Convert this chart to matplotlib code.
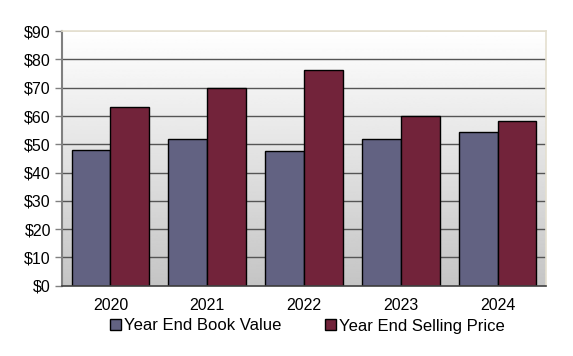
import numpy as np
import matplotlib
import matplotlib.pyplot as plt
from matplotlib.patches import Patch

matplotlib.use("Agg")
plt.rcParams["font.family"] = ["Liberation Sans", "DejaVu Sans"]

years = ["2020", "2021", "2022", "2023", "2024"]
book_value = [48.0, 52.0, 47.7, 51.8, 54.5]
selling_price = [63.2, 70.0, 76.3, 60.1, 58.4]
series_names = ["Year End Book Value", "Year End Selling Price"]
yticks = [0, 10, 20, 30, 40, 50, 60, 70, 80, 90]

BOOK_COLOR = "#626282"
SELL_COLOR = "#72233a"
FS = 11.5

fig = plt.figure(figsize=(5.73, 3.56), dpi=100)
ax = fig.add_axes([62 / 573, 1 - 285.7 / 356, 484 / 573, 254.5 / 356])

# background gradient: white at top, grey at bottom
grad = np.linspace(0.77, 1.0, 256).reshape(-1, 1)
ax.imshow(grad, cmap="gray", vmin=0, vmax=1, aspect="auto",
          extent=(-0.5, len(years) - 0.5, 0, 90), origin="lower", zorder=0)

x = np.arange(len(years))
w = 0.4
ax.bar(x - w / 2, book_value, w, color=BOOK_COLOR, edgecolor="black", lw=1.0, zorder=3)
ax.bar(x + w / 2, selling_price, w, color=SELL_COLOR, edgecolor="black", lw=1.0, zorder=3)

ax.set_xlim(-0.5, len(years) - 0.5)
ax.set_ylim(0, 90)
ax.set_yticks(yticks)
ax.set_yticklabels([f"${v}" for v in yticks], fontsize=FS)
ax.set_xticks(x)
ax.set_xticklabels(years, fontsize=FS)
ax.tick_params(axis="x", length=0, pad=9)
ax.tick_params(axis="y", length=5, width=1, color="#808080", pad=3)

for v in yticks[1:-1]:
    ax.axhline(v, color="#555555", lw=1.0, zorder=1)
ax.axhline(90, color="#e4dfcf", lw=1.2, zorder=1)

for side in ("top", "right"):
    ax.spines[side].set_color("#e4dfcf")
    ax.spines[side].set_linewidth(1.2)
ax.spines["left"].set_color("#808080")
ax.spines["left"].set_linewidth(1.5)
ax.spines["bottom"].set_color("#404040")
ax.spines["bottom"].set_linewidth(1.2)
ax.spines["bottom"].set_zorder(4)

handles = [Patch(facecolor=BOOK_COLOR, edgecolor="black", lw=1.0),
           Patch(facecolor=SELL_COLOR, edgecolor="black", lw=1.0)]
fig.legend(handles, series_names, loc="center", bbox_to_anchor=(0.537, 1 - 326 / 356),
           ncol=2, frameon=False, fontsize=12, handlelength=0.65, handleheight=0.65,
           handletextpad=0.2, columnspacing=2.6, borderaxespad=0)

fig.savefig("out.png", dpi=100)
